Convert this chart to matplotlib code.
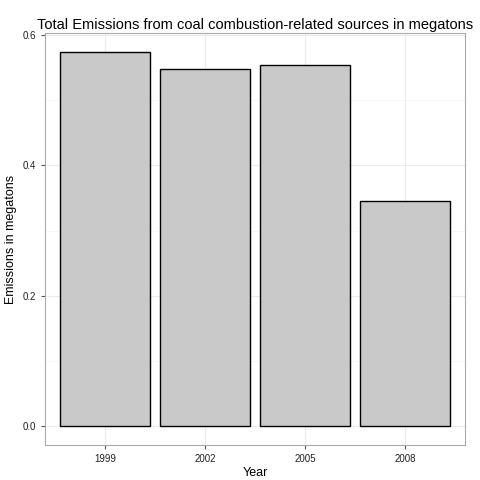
import matplotlib.pyplot as plt

plt.rcParams['font.family'] = ['Liberation Sans', 'DejaVu Sans']

years = ['1999', '2002', '2005', '2008']
emissions = [0.574, 0.548, 0.554, 0.345]

fig = plt.figure(figsize=(4.8, 4.8), dpi=100)
ax = fig.add_axes([0.094, 0.073, 0.875, 0.858])
x = range(len(years))
ax.bar(x, emissions, width=0.9, color='#c9c9c9', edgecolor='black', linewidth=1, zorder=3)
ax.set_xlim(-0.6, 3.6)
ax.set_ylim(-0.0287, 0.603)
ax.set_xticks(list(x))
ax.set_xticklabels(years)
ax.set_yticks([0.0, 0.2, 0.4, 0.6])
ax.set_yticklabels(['0.0', '0.2', '0.4', '0.6'])
ax.set_yticks([0.1, 0.3, 0.5], minor=True)
ax.grid(True, which='major', color='#ebebeb', linewidth=0.8, zorder=0)
ax.grid(True, which='minor', axis='y', color='#f5f5f5', linewidth=0.5, zorder=0)
ax.tick_params(labelsize=7, color='#555555', length=3, labelcolor='#222222')
ax.tick_params(which='minor', length=0)
for s in ax.spines.values():
    s.set_color('#aaaaaa')
ax.set_xlabel('Year', fontsize=9, labelpad=2)
ax.set_ylabel('Emissions in megatons', fontsize=9)
ax.set_title('Total Emissions from coal combustion-related sources in megatons', fontsize=10.5, pad=3)
fig.savefig('out.png', dpi=100)
